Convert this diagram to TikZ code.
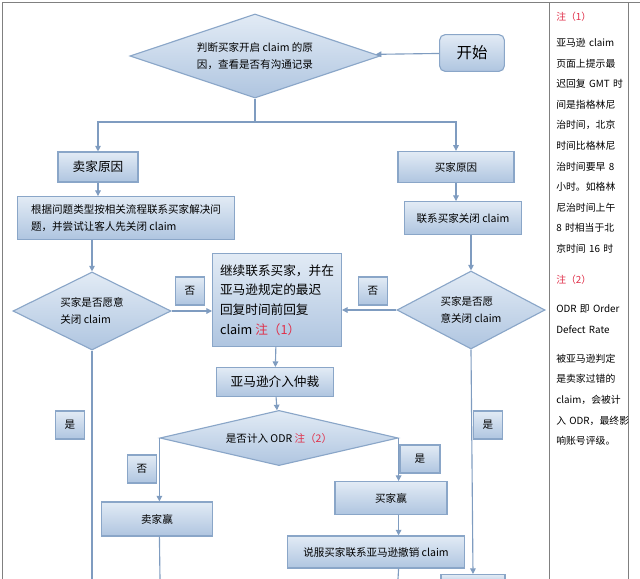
\documentclass[tikz,border=0pt]{standalone}
\usepackage{fontspec}
\setmainfont{Noto Sans CJK SC}
\usetikzlibrary{shapes.geometric,arrows.meta}
\definecolor{boxline}{HTML}{8AA6C8}
\definecolor{boxtop}{HTML}{E2EBF5}
\definecolor{boxbot}{HTML}{AFC5E0}
\definecolor{flow}{HTML}{7F9CC0}
\definecolor{notered}{HTML}{E0304A}
\newcommand{\zhu}[1]{\textcolor{notered}{#1}}

\tikzset{
  stepbox/.style={draw=boxline,thick,top color=boxtop,bottom color=boxbot,rectangle,inner sep=2pt,font=\fontsize{7.5}{12}\selectfont,align=left},
  askbox/.style={draw=boxline,thick,top color=boxtop,bottom color=boxbot,diamond,aspect=3,inner sep=0pt,font=\fontsize{7.5}{12}\selectfont,align=left},
  tagbox/.style={stepbox,minimum width=0.72cm,minimum height=0.7cm},
  flowline/.style={draw=flow,thick,-{Triangle[length=4pt,width=4pt]}}
}

\begin{document}
\begin{tikzpicture}[x=0.025cm,y=-0.025cm]
  \useasboundingbox (0,0) rectangle (640,579);
  \draw[gray,semithick] (2,579) -- (2,2) -- (640,2);
  \draw[gray,semithick] (549,2) -- (549,579) (628,2) -- (628,579);

  % flow boxes
  \node[stepbox,rounded corners=4pt,minimum width=1.62cm,minimum height=0.92cm,font=\fontsize{11}{13}\selectfont] (start) at (472,53) {开始};
  \node[askbox,minimum width=6.25cm,minimum height=2.1cm] (why) at (255,56) {判断买家开启 claim 的原\\因，查看是否有沟通记录};
  \node[stepbox,minimum width=2cm,minimum height=0.75cm,font=\fontsize{9}{12}\selectfont] (seller) at (98,167) {卖家原因};
  \node[stepbox,minimum width=2.9cm,minimum height=0.78cm] (buyer) at (456,167) {买家原因};
  \node[stepbox,minimum width=5.42cm,minimum height=1.07cm] (solve) at (126,218) {根据问题类型按相关流程联系买家解决问\\题，并尝试让客人先关闭 claim};
  \node[stepbox,minimum width=2.92cm,minimum height=0.82cm] (ask) at (463,218) {联系买家关闭 claim};
  \node[askbox,aspect=2,minimum width=3.95cm,minimum height=1.95cm] (lclose) at (92,311) {买家是否愿意\\关闭 claim};
  \node[askbox,aspect=2,minimum width=3.7cm,minimum height=1.95cm] (rclose) at (471,310) {买家是否愿\\意关闭 claim};
  \node[stepbox,minimum width=3.22cm,minimum height=2.32cm,font=\fontsize{9}{14}\selectfont] (reply) at (277,300) {继续联系买家，并在\\亚马逊规定的最迟\\回复时间前回复\\claim \zhu{注（1）}};
  \node[tagbox] (lno) at (190,291) {否};
  \node[tagbox] (rno) at (373,291) {否};
  \node[stepbox,minimum width=2.92cm,minimum height=0.72cm,font=\fontsize{9}{12}\selectfont] (amz) at (275,382) {亚马逊介入仲裁};
  \node[askbox,aspect=4.4,minimum width=5.95cm,minimum height=1.38cm] (odr) at (279,438) {是否计入 ODR \zhu{注（2）}};
  \node[tagbox] (lyes) at (70,425) {是};
  \node[tagbox] (ryes) at (488,425) {是};
  \node[tagbox] (ono) at (142,469) {否};
  \node[tagbox,minimum width=1cm] (oyes) at (420,459) {是};
  \node[stepbox,minimum width=2.78cm,minimum height=0.85cm] (swin) at (157,519) {卖家赢};
  \node[stepbox,minimum width=2.8cm,minimum height=0.82cm] (bwin) at (391,498) {买家赢};
  \node[stepbox,minimum width=4.42cm,minimum height=0.8cm] (persuade) at (376,552) {说服买家联系亚马逊撤销 claim};
  \node[stepbox,minimum width=1.6cm,minimum height=0.3cm,anchor=north] (last) at (473,574) {};

  % connectors
  \draw[flowline] (start) -- (why);
  \draw[draw=flow,thick] (why.south) -- (255,122) coordinate (split);
  \draw[flowline] (split) -| (seller.north);
  \draw[flowline] (split) -| (buyer.north);
  \draw[flowline] (seller) -- (seller|-solve.north);
  \draw[flowline] (buyer) -- (buyer|-ask.north);
  \draw[flowline] (lclose.north|-solve.south) -- (lclose.north);
  \draw[flowline] (ask.south-|rclose.north) -- (rclose.north);
  \draw[flowline] (lclose.east) -- (reply.west|-lclose.east);
  \draw[flowline] (rclose.west) -- (reply.east|-rclose.west);
  \draw[flowline] (reply) -- (amz);
  \draw[flowline] (amz) -- (odr);
  \draw[draw=flow,thick] (lclose.south) -- (92,579);
  \draw[flowline] (rclose.south) -- (last.north);
  \draw[flowline] (odr.west) -- (odr.west|-swin.north);
  \draw[flowline] (odr.east) -- (odr.east|-bwin.north);
  \draw[flowline] (bwin.south-|odr.east) -- (odr.east|-persuade.north);
  \draw[draw=flow,thick] (odr.east|-persuade.south) -- (398,579);
  \draw[draw=flow,thick] (swin.south-|odr.west) -- (160,579);

  % notes
  \node[anchor=north west,inner sep=0pt,font=\fontsize{7}{14.6}\selectfont,align=left,text width=1.9cm] (notes) at (556,12) {\zhu{注（1）}\\[4pt]
    亚马逊 claim\\页面上提示最\\迟回复 GMT 时\\间是指格林尼\\治时间，北京\\时间比格林尼\\治时间要早 8\\小时。如格林\\尼治时间上午\\8 时相当于北\\京时间 16 时\\[8pt]
    \zhu{注（2）}\\[6pt]
    ODR 即 Order\\Defect Rate\\[6pt]
    被亚马逊判定\\是卖家过错的\\claim，会被计\\入 ODR，最终影\\响账号评级。};
\end{tikzpicture}
\end{document}
